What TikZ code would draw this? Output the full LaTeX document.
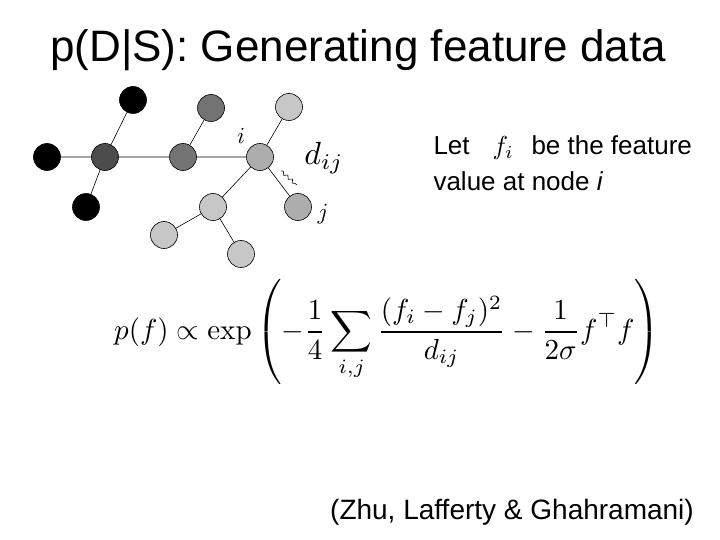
\documentclass[tikz,border=0pt]{standalone}
\usepackage{amsmath}
\usepackage[no-math]{fontspec}
\setmainfont{Liberation Sans}
\usepackage{graphicx}
\usetikzlibrary{decorations.pathmorphing}
\newcommand{\sz}[2]{\scalebox{#1}{#2}}
\begin{document}
\begin{tikzpicture}[x=1pt,y=-1pt,
  vtx/.style={circle,draw=black,line width=0.6pt,minimum size=27pt,inner sep=0pt},
  edge/.style={line width=0.6pt}]
\useasboundingbox (0,0) rectangle (720,540);
\definecolor{c1}{gray}{0.0}
\definecolor{c2}{gray}{0.3}
\definecolor{c3}{gray}{0.45}
\definecolor{c4}{gray}{0.68}
\definecolor{c5}{gray}{0.78}
\node (a) at (133,100) [vtx,fill=c1] {};
\node (b) at (47,157) [vtx,fill=c1] {};
\node (c) at (105,157) [vtx,fill=c2] {};
\node (d) at (86,207) [vtx,fill=c1] {};
\node (e) at (183,157) [vtx,fill=c3] {};
\node (f) at (211,108) [vtx,fill=c3] {};
\node (i) at (260,157) [vtx,fill=c4] {};
\node (g) at (289,107) [vtx,fill=c5] {};
\node (j) at (298,207) [vtx,fill=c4] {};
\node (h) at (213,207) [vtx,fill=c5] {};
\node (k) at (164,235) [vtx,fill=c5] {};
\node (l) at (241,254) [vtx,fill=c5] {};
\draw[edge] (a)--(c) (b)--(c) (d)--(c) (c)--(e) (e)--(f) (e)--(i) (i)--(g) (i)--(j) (i)--(h) (h)--(k) (h)--(l);
\coordinate (s1) at (281,171);
\coordinate (s2) at (297,185);
\draw[line width=0.6pt,decorate,decoration={snake,segment length=6pt,amplitude=1.5pt}] (s1)--(s2);
\node (li) at (241,136) {\sz{2.3}{$i$}};
\node (ld) at (324,158) {\sz{3.2}{$d_{ij}$}};
\node (lj) at (323,214) {\sz{2.3}{$j$}};
\node (title) at (358,50) {\sz{4.4}{p(D|S): Generating feature data}};
\node[anchor=west] (let1) at (430,148) {\sz{2.6}{Let \hspace{0.6em}$f_i$\hspace{0.4em} be the feature}};
\node[anchor=west] (let2) at (430,181) {\sz{2.6}{value at node \textit{i}}};
\node (eq) at (387,332) {\sz{2.9}{$\displaystyle p(f)\propto\exp\left(-\frac{1}{4}\sum_{i,j}\frac{(f_i-f_j)^2}{d_{ij}}-\frac{1}{2\sigma}f^{\top}f\right)$}};
\node (cite) at (512,512) {\sz{2.8}{(Zhu, Lafferty \& Ghahramani)}};
\end{tikzpicture}
\end{document}
